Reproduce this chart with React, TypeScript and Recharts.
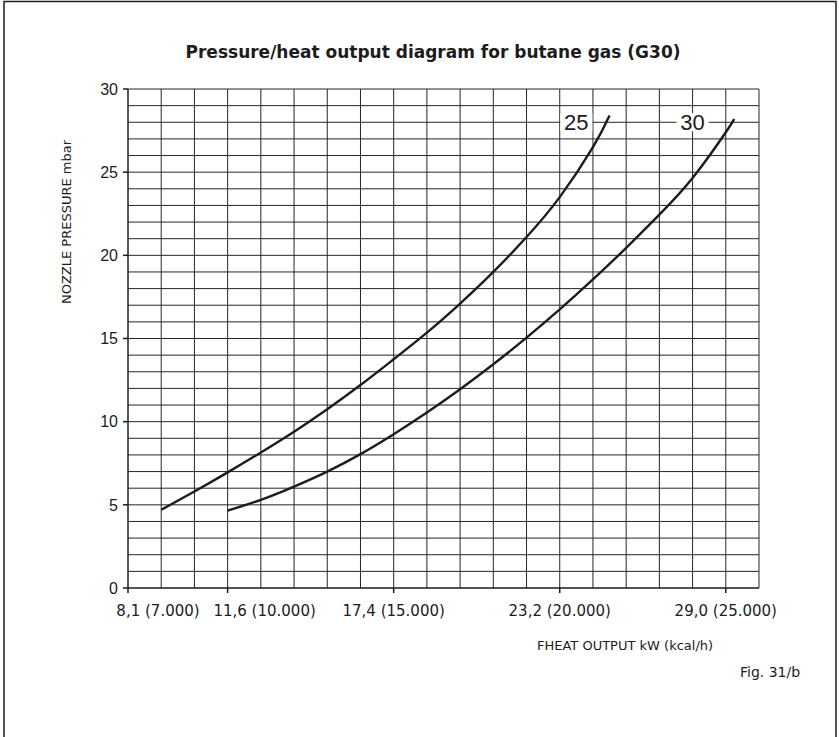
import React from 'react';
import { LineChart, Line, XAxis, YAxis, ReferenceLine, ReferenceDot } from 'recharts';

// ── data (x in kcal/h, y in mbar) ───────────────────────────────────────────
const curve25X = [8000, 9000, 10000, 11000, 12000, 13000, 14000, 15000, 16000, 17000, 18000, 19000, 20000, 21000, 21500];
const curve25Y = [4.7, 5.8, 6.95, 8.15, 9.4, 10.75, 12.2, 13.75, 15.35, 17.1, 19.0, 21.1, 23.5, 26.5, 28.4];

const curve30X = [10000, 11000, 12000, 13000, 14000, 15000, 16000, 17000, 18000, 19000, 20000, 21000, 22000, 23000, 24000, 25000, 25250];
const curve30Y = [4.65, 5.3, 6.1, 7.0, 8.05, 9.25, 10.55, 11.95, 13.45, 15.05, 16.75, 18.55, 20.45, 22.45, 24.65, 27.4, 28.2];

const xTicks = [7000, 10000, 15000, 20000, 25000];
const xTickLabels = ['8,1 (7.000)', '11,6 (10.000)', '17,4 (15.000)', '23,2 (20.000)', '29,0 (25.000)'];
const xTickShift = [30, 37, 0, 0, 0];
const yTicks = [0, 5, 10, 15, 20, 25, 30];

const gridX = [8000, 9000, 10000, 11000, 12000, 13000, 14000, 15000, 16000, 17000, 18000, 19000, 20000, 21000, 22000, 23000, 24000, 25000, 26000];
const gridY = [1, 2, 3, 4, 5, 6, 7, 8, 9, 10, 11, 12, 13, 14, 15, 16, 17, 18, 19, 20, 21, 22, 23, 24, 25, 26, 27, 28, 29, 30];

const curveLabels = [
  { text: '25', x: 20500, y: 28 },
  { text: '30', x: 24000, y: 28 },
];

const d25 = curve25X.map((x, i) => ({ x, y: curve25Y[i] }));
const d30 = curve30X.map((x, i) => ({ x, y: curve30Y[i] }));

const FONT = '"DejaVu Sans", "Liberation Sans", Arial, sans-serif';
const FONT_NARROW = '"Liberation Sans", Arial, sans-serif';
const INK = '#1c1c1c';
const GRID = '#262626';

function XTick(props: any) {
  const { x, y, payload } = props;
  const i = xTicks.indexOf(payload.value);
  return (
    <text x={x + (xTickShift[i] || 0)} y={y} dy="0.71em" textAnchor="middle"
      fontSize={15} fontFamily={FONT} fill={INK}>
      {xTickLabels[i]}
    </text>
  );
}

function CurveLabel(text: string) {
  return (props: any) => {
    const { cx, cy } = props;
    return (
      <g>
        <rect x={cx - 16} y={cy - 9} width={32} height={18} fill="#fff" />
        <text x={cx} y={cy} dy="0.36em" textAnchor="middle" fontSize={22} fontFamily={FONT_NARROW} fill={INK}>
          {text}
        </text>
      </g>
    );
  };
}

export default function App() {
  return (
    <div style={{ position: 'absolute', left: 0, top: 0, width: 839, height: 737, background: '#fff' }}>
      <LineChart width={839} height={737} margin={{ top: 89, right: 80, bottom: 119, left: 68 }}>
        <XAxis type="number" dataKey="x" domain={[7000, 26000]} ticks={xTicks} interval={0}
          allowDataOverflow stroke={INK} strokeWidth={1.5} tickSize={5} tickMargin={12}
          tick={<XTick />} height={30} />
        <YAxis type="number" dataKey="y" domain={[0, 30]} ticks={yTicks} interval={0}
          stroke={INK} strokeWidth={1.5} tickSize={5} tickMargin={5} width={60}
          tick={{ fontSize: 16, fontFamily: FONT_NARROW, fill: INK }} />
        {gridX.map(v => (
          <ReferenceLine key={'gx' + v} x={v} stroke={GRID} strokeWidth={1} />
        ))}
        {gridY.map(v => (
          <ReferenceLine key={'gy' + v} y={v} stroke={GRID} strokeWidth={1} />
        ))}
        <Line data={d25} dataKey="y" type="natural" stroke={INK} strokeWidth={2.4} dot={false} isAnimationActive={false} />
        <Line data={d30} dataKey="y" type="natural" stroke={INK} strokeWidth={2.4} dot={false} isAnimationActive={false} />
        {curveLabels.map(l => (
          <ReferenceDot key={l.text} x={l.x} y={l.y} r={0} shape={CurveLabel(l.text)} />
        ))}
      </LineChart>
      <svg width={839} height={737} style={{ position: 'absolute', left: 0, top: 0, pointerEvents: 'none' }}>
        <polyline points="4,737 4,1.5 836,1.5 836,737" fill="none" stroke={INK} strokeWidth={1.5} />
        <text x={433} y={52} dy="0.36em" textAnchor="middle" fontSize={17} fontWeight="bold" fontFamily={FONT} fill={INK}>
          Pressure/heat output diagram for butane gas (G30)
        </text>
        <text x={66} y={222} dy="0.36em" textAnchor="middle" fontSize={13} fontFamily={FONT} fill={INK}
          transform="rotate(-90 66 222)">
          NOZZLE PRESSURE mbar
        </text>
        <text x={537} y={645} dy="0.36em" textAnchor="start" fontSize={13} fontFamily={FONT} fill={INK}>
          FHEAT OUTPUT kW (kcal/h)
        </text>
        <text x={740} y={672} dy="0.36em" textAnchor="start" fontSize={14} fontFamily={FONT} fill={INK}>
          Fig. 31/b
        </text>
      </svg>
    </div>
  );
}
